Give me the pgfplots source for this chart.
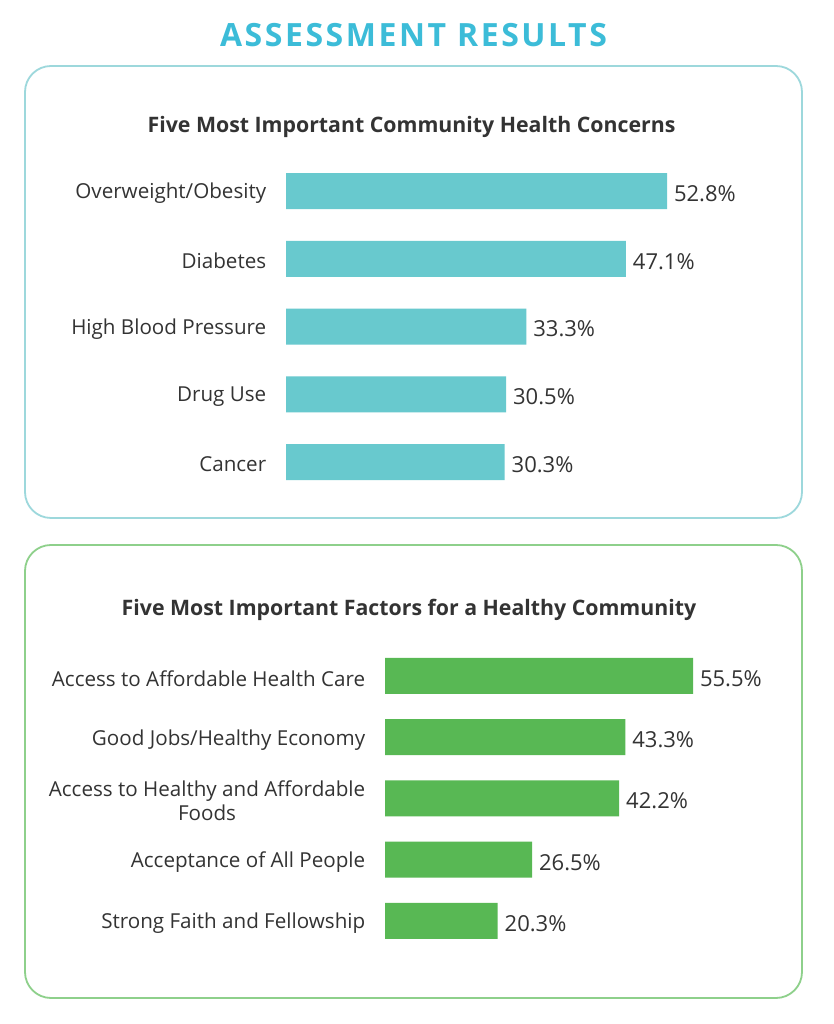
\documentclass[border=0pt]{standalone}
\usepackage{pgfplots}
\pgfplotsset{compat=1.18}
\usepackage{fontspec}
\setmainfont{Open Sans}
\definecolor{teal1}{HTML}{68C9CE}
\definecolor{tealbox}{HTML}{9DD8DC}
\definecolor{green1}{HTML}{58B854}
\definecolor{greenbox}{HTML}{8ED08B}
\definecolor{titleblue}{HTML}{3CBCD8}
\definecolor{txt}{HTML}{333333}
\begin{document}
\begin{tikzpicture}[x=1pt,y=1pt]
\useasboundingbox (0,0) rectangle (833,1024);
\fill[white] (0,0) rectangle (833,1024);
\node[text=titleblue,font=\fontsize{32}{34}\selectfont\bfseries\addfontfeature{LetterSpace=8}] at (413.5,989) {ASSESSMENT RESULTS};
\draw[tealbox,line width=1.8pt,rounded corners=26pt] (25,506) rectangle (802,958);
\draw[greenbox,line width=1.8pt,rounded corners=26pt] (25,26) rectangle (802,479);
\node[text=txt,font=\fontsize{21.3}{24}\selectfont\bfseries] at (411.5,897) {Five Most Important Community Health Concerns};
\node[text=txt,font=\fontsize{21.3}{24}\selectfont\bfseries] at (409,414) {Five Most Important Factors for a Healthy Community};

\pgfplotsset{myaxis/.style={
  scale only axis, xbar, bar shift=0pt, bar width=36pt,
  xmin=0, ymin=-0.5, ymax=4.5, y dir=reverse,
  axis line style={draw=none}, major tick style={draw=none},
  xtick=\empty, ytick={0,1,2,3,4},
  yticklabel style={font=\fontsize{20.6}{24}\selectfont, text=txt, align=center, xshift=-12pt, yshift=-2.5pt},
  clip=false,
  nodes near coords={\pgfmathprintnumber[fixed,fixed zerofill,precision=1]{\pgfplotspointmeta}\%},
  nodes near coords style={anchor=west, font=\fontsize{22}{24}\selectfont, text=txt, xshift=3.5pt, yshift=-2.5pt,
     /pgf/number format/assume math mode=true},
  point meta=x,
}}

\begin{axis}[myaxis, at={(286pt,528.1pt)}, anchor=south west,
  width=433pt, height=338.75pt, xmax=60,
  yticklabels={Overweight/Obesity, Diabetes, High Blood Pressure, Drug Use, Cancer}]
\addplot[fill=teal1, draw=none] coordinates {(52.8,0) (47.1,1) (33.3,2) (30.5,3) (30.3,4)};
\end{axis}

\begin{axis}[myaxis, at={(385pt,72.4pt)}, anchor=south west,
  width=360.75pt, height=306.25pt, xmax=65,
  yticklabels={Access to Affordable Health Care, Good Jobs/Healthy Economy, {Access to Healthy and Affordable\\Foods}, Acceptance of All People, Strong Faith and Fellowship}]
\addplot[fill=green1, draw=none] coordinates {(55.5,0) (43.3,1) (42.2,2) (26.5,3) (20.3,4)};
\end{axis}
\end{tikzpicture}
\end{document}
